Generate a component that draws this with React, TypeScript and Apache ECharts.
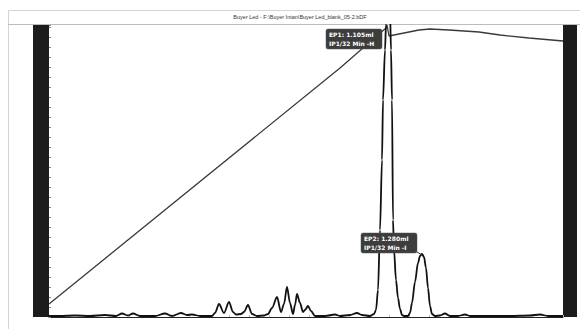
import React, { useEffect, useRef } from "react";
import * as echarts from "echarts";

const titleText = "Buyer Led - F:\\Buyer Intan\\Buyer Led_blank_05-2.bDF";

// x: time units, y: signal units
const titrationCurve: [number, number][] = [
  [0, 13], [291, 249], [337, 289], [338, 292], [340, 281],
  [350, 283], [370, 287], [381, 288], [400, 287], [430, 285], [451, 282],
  [480, 279], [514, 276],
];

const derivativeCurve: [number, number][] = [
  [0, 1], [11, 1], [26, 1.5], [41, 1], [56, 2], [67, 1], [73, 3.5], [79, 1.5],
  [84, 3.5], [91, 1], [106, 1], [116, 3.5], [123, 1], [132, 4], [138, 2],
  [143, 2.5], [151, 1], [163, 1], [166, 4], [170, 13], [175, 4], [180, 15],
  [184, 5], [187, 2.5], [192, 3], [195, 5], [199, 12], [203, 3], [208, 1],
  [215, 1.5], [219, 3], [223, 9], [228, 20], [232, 5], [235, 13], [238, 30],
  [241, 14], [244, 3], [246, 12], [248, 23], [251, 14], [254, 5], [256, 7],
  [259, 11], [262, 6], [266, 1], [276, 1], [286, 2.5], [291, 1], [301, 2],
  [308, 4], [313, 2], [321, 1], [325, 3], [327, 7], [329, 27], [331, 87],
  [333, 157], [334, 217], [336, 267], [337, 292], [338, 317], [339, 335],
  [341, 307], [342, 267], [343, 217], [344, 97], [345, 67], [347, 37],
  [349, 19], [351, 8], [353, 2], [355, 1], [359, 1], [361, 4], [363, 14],
  [366, 35], [369, 54], [371, 61], [373, 63], [375, 60], [377, 49], [379, 29],
  [381, 11], [383, 3], [386, 1], [391, 1.5], [396, 3.5], [401, 1], [409, 1],
  [416, 2.5], [421, 1], [441, 1], [461, 1], [481, 1.5], [491, 2.5], [499, 1],
  [514, 1],
];

const endPoints = [
  { name: "EP1", anchor: [339, 288], lines: ["EP1: 1.105ml", "IP1/32 Min -H"], side: "top" },
  { name: "EP2", anchor: [373, 63], lines: ["EP2: 1.280ml", "IP1/32 Min -I"], side: "bottom" },
];

const X_MAX = 514;
const Y_MAX = 292;

export default function App() {
  const ref = useRef<HTMLDivElement>(null);

  useEffect(() => {
    if (!ref.current) return;
    const chart = echarts.init(ref.current, null, { renderer: "svg" });
    const gridLeft = 49;
    const gridRight = 17;
    const gridTop = 25;
    const gridBottom = 12;

    chart.setOption({
      animation: false,
      backgroundColor: "#ffffff",
      grid: { left: gridLeft, right: gridRight, top: gridTop, bottom: gridBottom },
      xAxis: {
        type: "value",
        min: 0,
        max: X_MAX,
        interval: 20,
        axisLine: { show: true, lineStyle: { color: "#222", width: 1 } },
        axisTick: { show: true, inside: true, length: 2, lineStyle: { color: "#bbb" } },
        axisLabel: { show: false },
        splitLine: { show: false },
      },
      yAxis: {
        type: "value",
        min: 0,
        max: Y_MAX,
        interval: 10,
        position: "left",
        offset: 16,
        axisLine: { show: false },
        axisTick: { show: true, inside: true, length: 2, lineStyle: { color: "#888" } },
        axisLabel: { show: false },
        splitLine: { show: false },
      },
      series: [
        {
          type: "line",
          data: titrationCurve,
          showSymbol: false,
          symbol: "none",
          lineStyle: { color: "#3a3a3a", width: 1.3 },
          clip: true,
          z: 2,
        },
        {
          type: "line",
          data: derivativeCurve,
          showSymbol: false,
          symbol: "none",
          smooth: 0.3,
          smoothMonotone: "x",
          lineStyle: { color: "#111", width: 1.8 },
          clip: true,
          z: 3,
        },
      ],
    });

    const graphics: any[] = [
      {
        type: "rect",
        shape: { x: 8.5, y: 10.5, width: 700, height: 400 },
        style: { fill: "none", stroke: "#d4d4d4", lineWidth: 1 },
        silent: true,
        z: -10,
      },
      {
        type: "line",
        shape: { x1: 8, y1: 24.5, x2: 580, y2: 24.5 },
        style: { stroke: "#bdbdbd", lineWidth: 1 },
        z: 1,
      },
      {
        type: "text",
        x: 300,
        y: 17,
        style: {
          text: titleText,
          fontSize: 5.5,
          fontFamily: "Liberation Sans, Arial, sans-serif",
          fill: "#333",
          align: "center",
          verticalAlign: "middle",
        },
      },
      {
        type: "rect",
        shape: { x: 33, y: 25, width: 16, height: 292 },
        style: { fill: "#1c1c1c" },
        z: 0,
      },
      {
        type: "rect",
        shape: { x: 563, y: 25, width: 14, height: 292 },
        style: { fill: "#1c1c1c" },
        z: 0,
      },
    ];

    endPoints.forEach((ep) => {
      const p = chart.convertToPixel({ gridIndex: 0 }, ep.anchor) as number[];
      const w = 56;
      const h = 20;
      let bx: number, by: number;
      if (ep.side === "top") {
        bx = p[0] - 6 - w;
        by = p[1];
      } else {
        bx = p[0] - 5 - w;
        by = p[1] - 1 - h;
        graphics.push({
          type: "line",
          shape: { x1: bx + w, y1: by + h - 1, x2: p[0], y2: p[1] + 1 },
          style: { stroke: "#333", lineWidth: 1 },
          z: 20,
        });
      }
      graphics.push({
        type: "rect",
        shape: { x: bx, y: by, width: w, height: h, r: 2 },
        style: { fill: "#3d3d3d", stroke: "#555", lineWidth: 0.5 },
        z: 20,
      });
      ep.lines.forEach((t, i) => {
        graphics.push({
          type: "text",
          x: bx + 3,
          y: by + 5.5 + i * 8.5,
          style: {
            text: t,
            fontSize: 6,
            fontWeight: "bold",
            fontFamily: "DejaVu Sans, sans-serif",
            fill: "#ffffff",
            align: "left",
            verticalAlign: "middle",
          },
          z: 21,
        });
      });
    });

    chart.setOption({ graphic: graphics });

    return () => chart.dispose();
  }, []);

  return (
    <div
      ref={ref}
      style={{ position: "fixed", left: 0, top: 0, width: 580, height: 329, background: "#fff" }}
    />
  );
}
